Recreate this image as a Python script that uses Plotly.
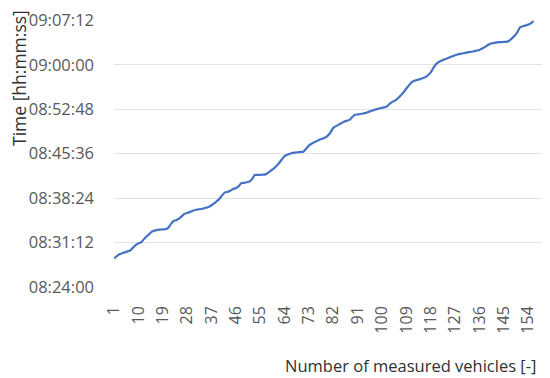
import plotly.graph_objects as go

# Vehicle index (category axis)
vehicles = list(range(1, 157))

# Time of each measured vehicle
times = [
    "08:28:37", "08:28:59", "08:29:19", "08:29:28", "08:29:37", "08:29:46", "08:29:55", "08:30:22",
    "08:30:47", "08:31:04", "08:31:14", "08:31:43", "08:32:11", "08:32:34", "08:32:58", "08:33:08",
    "08:33:16", "08:33:18", "08:33:20", "08:33:22", "08:33:35", "08:34:11", "08:34:42", "08:34:49",
    "08:35:04", "08:35:26", "08:35:51", "08:35:59", "08:36:08", "08:36:20", "08:36:29", "08:36:34",
    "08:36:38", "08:36:43", "08:36:50", "08:36:59", "08:37:15", "08:37:32", "08:37:55", "08:38:19",
    "08:38:53", "08:39:20", "08:39:25", "08:39:36", "08:39:53", "08:40:01", "08:40:18", "08:40:49",
    "08:40:53", "08:40:58", "08:41:05", "08:41:29", "08:42:09", "08:42:10", "08:42:11", "08:42:12",
    "08:42:15", "08:42:33", "08:42:52", "08:43:11", "08:43:37", "08:44:05", "08:44:40", "08:45:13",
    "08:45:26", "08:45:35", "08:45:44", "08:45:47", "08:45:50", "08:45:53", "08:45:56", "08:46:25",
    "08:46:56", "08:47:13", "08:47:27", "08:47:40", "08:47:53", "08:48:02", "08:48:13", "08:48:32",
    "08:49:04", "08:49:47", "08:50:04", "08:50:19", "08:50:33", "08:50:47", "08:50:56", "08:51:05",
    "08:51:32", "08:51:55", "08:51:58", "08:52:02", "08:52:07", "08:52:13", "08:52:23", "08:52:32",
    "08:52:40", "08:52:49", "08:52:56", "08:53:02", "08:53:07", "08:53:19", "08:53:45", "08:54:02",
    "08:54:15", "08:54:37", "08:55:04", "08:55:33", "08:56:10", "08:56:42", "08:57:11", "08:57:26",
    "08:57:34", "08:57:41", "08:57:50", "08:57:59", "08:58:19", "08:58:46", "08:59:31", "09:00:07",
    "09:00:28", "09:00:41", "09:00:52", "09:01:02", "09:01:13", "09:01:23", "09:01:33", "09:01:41",
    "09:01:47", "09:01:53", "09:01:59", "09:02:03", "09:02:07", "09:02:12", "09:02:19", "09:02:25",
    "09:02:38", "09:02:52", "09:03:10", "09:03:25", "09:03:31", "09:03:36", "09:03:40", "09:03:41",
    "09:03:43", "09:03:44", "09:03:54", "09:04:17", "09:04:42", "09:05:16", "09:06:05", "09:06:14",
    "09:06:23", "09:06:31", "09:06:43", "09:07:06",
]

x_ticks = list(range(1, 157, 9))
y_ticks = ["08:24:00", "08:31:12", "08:38:24", "08:45:36", "08:52:48", "09:00:00", "09:07:12"]

DAY = "2024-01-01 "
FONT = "Open Sans"
GREY = "#595959"
DARK = "#303030"

# page body has an 8px margin, so the figure is drawn 8px in from the top-left
W, H = 542, 370
L, R, T, B = 106, 7, 12, 91
PW, PH = W - L - R, H - T - B

fig = go.Figure(
    go.Scatter(
        x=vehicles,
        y=[DAY + t for t in times],
        mode="lines",
        line=dict(color="#4472C4", width=2.2, shape="spline", smoothing=0.5),
        hoverinfo="skip",
        cliponaxis=False,
    )
)

fig.update_layout(
    width=W,
    height=H,
    margin=dict(l=L, r=R, t=T, b=B, autoexpand=False),
    paper_bgcolor="white",
    plot_bgcolor="white",
    showlegend=False,
    font=dict(family=FONT, color=GREY, size=16),
    xaxis=dict(
        range=[1, 159.5],
        tickmode="array",
        tickvals=x_ticks,
        ticktext=[str(v) for v in x_ticks],
        tickangle=-90,
        showgrid=False,
        zeroline=False,
        showline=False,
        ticks="",
        automargin=False,
        ticklabelstandoff=15,
        tickfont=dict(size=16, color=GREY),
    ),
    yaxis=dict(
        type="date",
        range=[DAY + y_ticks[0], DAY + "09:07:16"],
        tickmode="array",
        tickvals=[DAY + t for t in y_ticks],
        ticktext=y_ticks,
        showgrid=True,
        gridcolor="#e3e3e3",
        gridwidth=1,
        zeroline=False,
        showline=False,
        ticks="",
        automargin=False,
        ticklabelstandoff=19,
        ticklabeloverflow="allow",
        tickfont=dict(size=16.5, color=GREY),
    ),
    annotations=[
        dict(
            text="Time [hh:mm:ss]",
            xref="paper", yref="paper",
            x=(-3 - L) / PW, y=(PH + T) / PH,
            xanchor="left", yanchor="top",
            textangle=-90,
            showarrow=False,
            font=dict(family=FONT, size=17.5, color=DARK),
        ),
        dict(
            text="Number of measured vehicles [-]",
            xref="paper", yref="paper",
            x=(530 - L) / PW, y=-(357 - (T + PH)) / PH,
            xanchor="right", yanchor="middle",
            showarrow=False,
            font=dict(family=FONT, size=16.5, color=DARK),
        ),
    ],
)

fig.write_html("out.html")
